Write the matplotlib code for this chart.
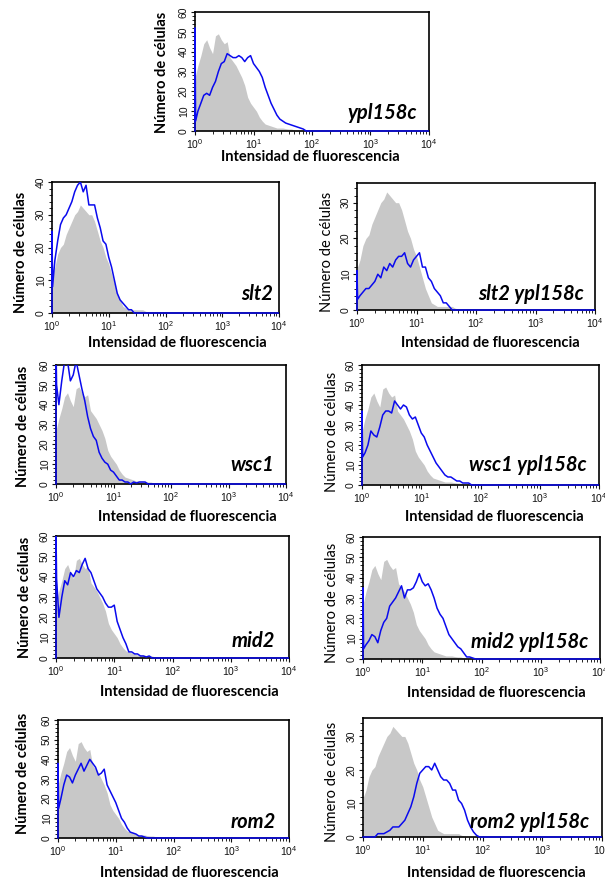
import numpy as np
import matplotlib.pyplot as plt
from matplotlib.transforms import Bbox, TransformedBbox
from matplotlib.ticker import LogLocator, MultipleLocator, NullFormatter

plt.rcParams['font.family'] = ['Liberation Sans', 'DejaVu Sans']

# --- log10 of fluorescence where counts were read -------------------
log_int = [0.0, 0.01,
           0.05, 0.10, 0.15, 0.20, 0.25, 0.30, 0.35, 0.40, 0.45, 0.50,
           0.55, 0.60, 0.65, 0.70, 0.75, 0.80, 0.85, 0.90, 0.95, 1.00,
           1.05, 1.10, 1.15, 1.20, 1.25, 1.30, 1.35, 1.40, 1.45, 1.50,
           1.55, 1.60, 1.65, 1.70, 1.75, 1.80, 1.85, 1.90, 1.95, 2.00,
           4.0]

# --- grey control histograms ----------------------------------------
wt60 = [30, 28,
        33, 38, 44, 46, 42, 39, 48, 49, 46, 44,
        45, 37, 35, 33, 30, 27, 23, 17, 14, 12,
        10, 7, 5, 3.5, 3, 2.5, 2, 1.5, 1.5, 1.5,
        1.2, 1, 1, 0.5, 0.5, 0.3, 0, 0, 0, 0,
        0]
wt35 = [15, 12,
        14, 18, 20, 21, 24, 26, 28, 30, 31, 33,
        32, 31, 30, 30, 28, 25, 22, 20, 17, 15,
        12, 9, 6, 4, 2, 1.5, 1, 1, 1, 1,
        1, 1, 0.5, 0.3, 0, 0, 0, 0, 0, 0,
        0]

# --- blue mutant histograms -----------------------------------------
ypl158c = [52, 5,
           10, 14, 18, 19, 18, 22, 25, 30, 34, 35,
           39, 38, 37, 37, 38, 37, 35, 37, 38, 34,
           32, 30, 27, 22, 18, 14, 11, 8, 6, 5,
           4, 3.5, 3, 2.5, 2, 1.5, 1, 0, 0, 0,
           0]
slt2 = [25, 8,
        16, 22, 27, 29, 30, 32, 34, 37, 39, 40,
        37, 39, 33, 33, 33, 29, 26, 22, 21, 17,
        14, 10, 6, 4, 3, 2, 1, 1, 0, 0,
        0, 0, 0, 0, 0, 0, 0, 0, 0, 0,
        0]
slt2_ypl158c = [11, 3,
                4, 5, 6, 6, 7, 8, 10, 9, 12, 11,
                13, 12, 14, 15, 15, 16, 13, 12, 14, 15,
                16, 12, 12, 9, 8, 6, 5, 4, 2, 2,
                1, 0, 0, 0, 0, 0, 0, 0, 0, 0,
                0]
wsc1 = [70, 50,
        40, 52, 62, 62, 52, 55, 62, 55, 48, 42,
        34, 28, 24, 22, 16, 13, 11, 10, 7, 6,
        4, 2, 2, 1, 1, 0, 1, 0.5, 1, 1,
        1, 0, 0, 0, 0, 0, 0, 0, 0, 0,
        0]
wsc1_ypl158c = [37, 14,
                16, 20, 27, 25, 24, 29, 35, 37, 37, 36,
                42, 40, 38, 40, 39, 35, 33, 34, 30, 26,
                24, 20, 17, 14, 11, 9, 7, 5, 4, 4,
                3, 2, 2, 1, 1, 1, 0, 0, 0, 0,
                0]
mid2 = [62, 39,
        20, 30, 38, 36, 42, 40, 43, 42, 46, 49,
        44, 42, 38, 34, 32, 30, 27, 25, 25, 26,
        18, 14, 10, 7, 3, 3, 2, 2, 1, 1,
        0.5, 1, 0, 0, 0, 0, 0, 0, 0, 0,
        0]
mid2_ypl158c = [35, 5,
                7, 9, 12, 11, 8, 14, 18, 20, 26, 28,
                30, 33, 36, 30, 34, 34, 35, 38, 42, 38,
                36, 37, 34, 30, 25, 22, 20, 16, 12, 10,
                8, 6, 5, 3, 1, 1, 0.5, 0, 0, 0,
                0]
rom2 = [38, 15,
        20, 27, 32, 31, 28, 32, 35, 38, 34, 37,
        40, 38, 36, 32, 33, 35, 27, 24, 21, 18,
        14, 10, 8, 5, 3, 2.5, 2, 1, 1, 0.5,
        0, 0, 0, 0, 0, 0, 0, 0, 0, 0,
        0]
rom2_ypl158c = [0, 0,
                0, 0, 0, 0, 1, 1, 1, 1.5, 2, 3,
                3, 3, 4, 5, 7, 9, 12, 16, 19, 20,
                21, 21, 20, 22, 20, 18, 17, 17, 16, 14,
                14, 11, 10, 8, 5, 3, 1.5, 0.5, 0, 0,
                0]

# --- layout (pixel boxes of the 605x881 picture) --------------------
W, H = 605, 881
panels = [
    # label, blue, grey, ymax, axes box (l,t,r,b), ylabel xy, xlabel xy, name xy, bold ylabel
    ('ypl158c', ypl158c, wt60, 60, (195, 12, 429, 131), (162, 72), (310, 157), (417, 113), True),
    ('slt2', slt2, wt35, 40, (52, 182, 279, 313), (21, 252), (177, 343), (273, 294), True),
    ('slt2 ypl158c', slt2_ypl158c, wt35, 35.5, (357, 183, 595, 310), (327, 252), (490, 343), (584, 294), False),
    ('wsc1', wsc1, wt60, 60, (56, 365, 286, 484), (23, 426), (187, 517), (274, 465), True),
    ('wsc1 ypl158c', wsc1_ypl158c, wt60, 60, (362, 365, 599, 485), (332, 432), (494, 517), (587, 465), False),
    ('mid2', mid2, wt60, 60, (56, 536, 289, 658), (25, 597), (189, 692), (275, 641), True),
    ('mid2 ypl158c', mid2_ypl158c, wt60, 60, (363, 537, 600, 659), (332, 603), (496, 693), (588, 642), False),
    ('rom2', rom2, wt60, 60, (58, 720, 289, 838), (23, 773), (189, 873), (276, 822), True),
    ('rom2 ypl158c', rom2_ypl158c, wt35, 35.5, (363, 718, 602, 837), (332, 782), (496, 873), (589, 822), False),
]

LABEL_FONT = ['Lato', 'DejaVu Sans']
BLUE = '#0a0aee'
GREY = '#c8c8c8'

fig = plt.figure(figsize=(W / 100, H / 100), dpi=100)
x = 10 ** np.array(log_int)

for name, blue, grey, ymax, box, ylab, xlab, npos, boldy in panels:
    l, t, r, b = box
    ax = fig.add_axes([l / W, 1 - b / H, (r - l) / W, (b - t) / H])
    ax.fill_between(x, 0, grey, color=GREY, lw=0, zorder=1)
    # outline starts on the baseline so the channel-0 spike is drawn on the left edge
    line, = ax.plot(np.r_[x[0], x], np.r_[0, blue], color=BLUE, lw=1.1, zorder=3)
    line.set_clip_path(None)
    line.set_clip_box(TransformedBbox(Bbox([[-0.02, -0.03], [1.0, 1.0]]), ax.transAxes))

    ax.set_xscale('log')
    ax.set_xlim(1, 1e4)
    ax.set_ylim(0, ymax)
    ax.xaxis.set_major_locator(LogLocator(base=10))
    ax.xaxis.set_minor_locator(LogLocator(base=10, subs=np.arange(2, 10)))
    ax.xaxis.set_minor_formatter(NullFormatter())
    ax.yaxis.set_major_locator(MultipleLocator(10))
    ax.yaxis.set_minor_locator(MultipleLocator(2))
    ax.tick_params(which='major', direction='out', length=3, width=0.8,
                   labelsize=7.5, pad=1.5, colors='#111111')
    ax.tick_params(which='minor', direction='out', length=2, width=0.6)
    ax.tick_params(axis='y', labelrotation=90)
    for lbl in ax.get_yticklabels():
        lbl.set_va('center')
    for sp in ax.spines.values():
        sp.set_linewidth(1.2)

    fig.text(ylab[0] / W, 1 - ylab[1] / H, 'Número de células', rotation=90,
             ha='center', va='center', fontsize=10.5, family=LABEL_FONT,
             fontweight='bold' if boldy else 'normal')
    fig.text(xlab[0] / W, 1 - xlab[1] / H, 'Intensidad de fluorescencia',
             ha='center', va='center', fontsize=10.5, family=LABEL_FONT,
             fontweight='bold')
    fig.text(npos[0] / W, 1 - npos[1] / H, name, ha='right', va='center',
             fontsize=14.5, family=LABEL_FONT, fontweight='bold', style='italic')

fig.savefig('out.png', dpi=100)
